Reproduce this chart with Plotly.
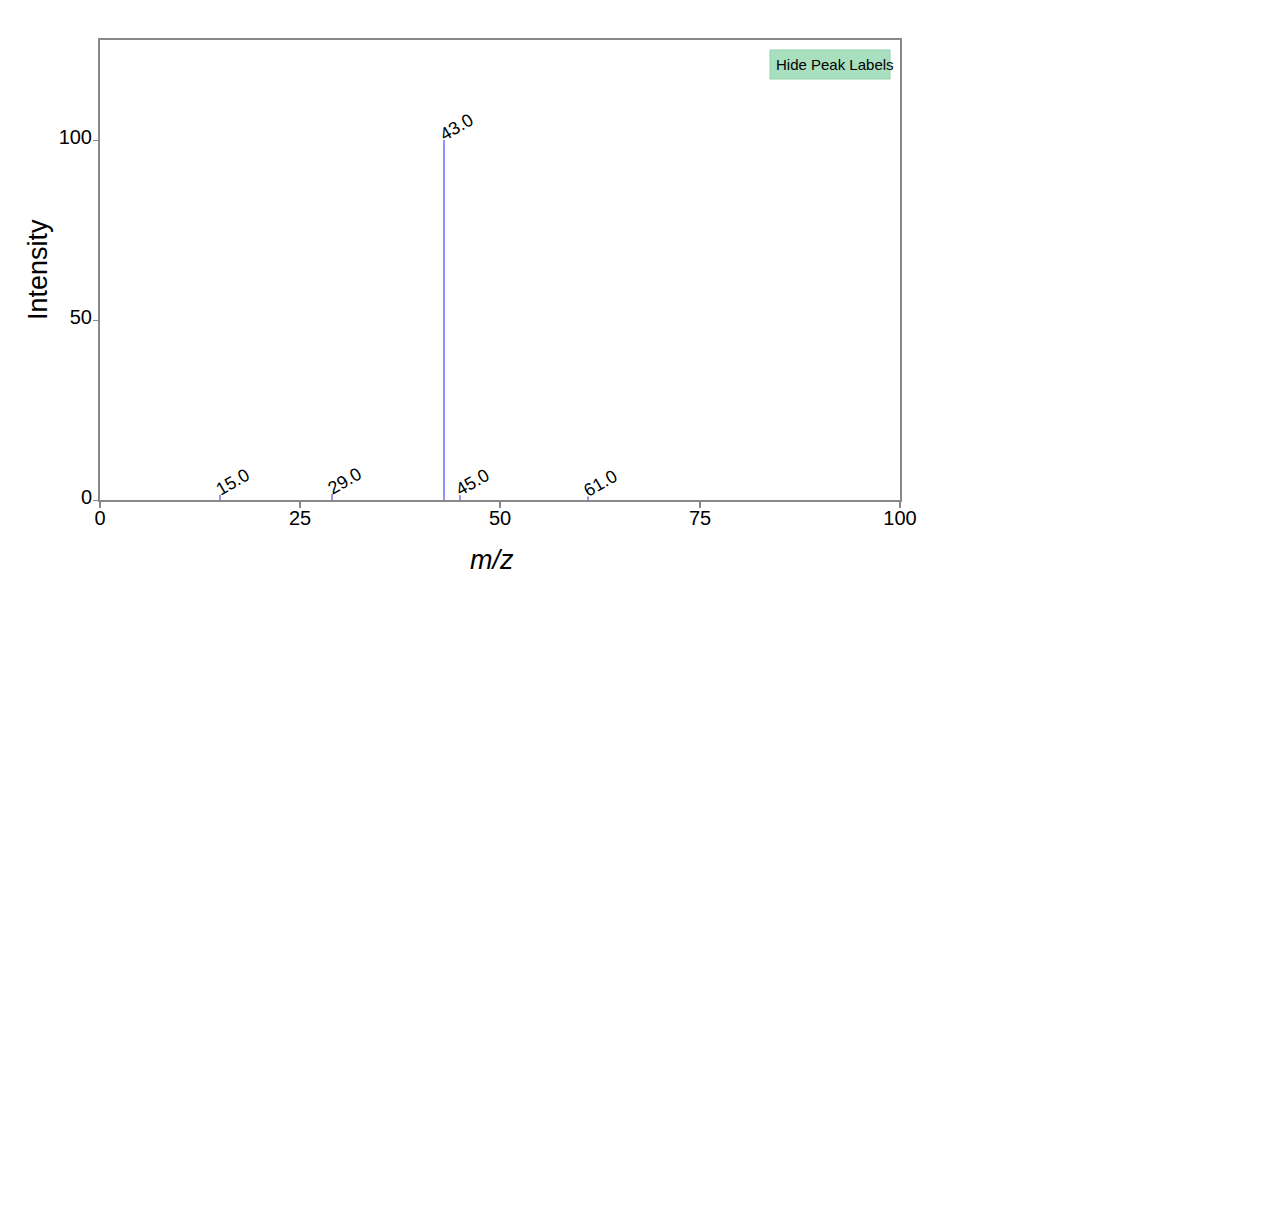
import plotly.graph_objects as go

# Data
mz_values = [15.0, 29.0, 43.0, 45.0, 61.0]
intensities = [1.4, 1.7, 100.0, 1.3, 1.0]
peak_labels = ["15.0", "29.0", "43.0", "45.0", "61.0"]
x_ticks = [0, 25, 50, 75, 100]
y_ticks = [0, 50, 100]

FONT = "Liberation Sans, Arial, sans-serif"

xs, ys = [], []
for m, i in zip(mz_values, intensities):
    xs += [m, m, None]
    ys += [0, i, None]

fig = go.Figure()
fig.add_trace(go.Scatter(x=xs, y=ys, mode="lines",
                         line=dict(color="#6e6cff", width=1.5),
                         hoverinfo="skip", showlegend=False))

annotations = []
for m, i, lab in zip(mz_values, intensities, peak_labels):
    annotations.append(dict(x=m, y=i, xref="x", yref="y", text=lab,
                            showarrow=False, textangle=-30,
                            xanchor="left", yanchor="bottom",
                            xshift=-10, yshift=-7,
                            font=dict(family=FONT, size=18, color="black")))

annotations.append(dict(x=0.49, y=-0.1304, xref="paper", yref="paper",
                        text="<i>m/z</i>", showarrow=False,
                        xanchor="center", yanchor="middle",
                        font=dict(family=FONT, size=27, color="black")))
annotations.append(dict(x=-0.0775, y=0.5, xref="paper", yref="paper",
                        text="Intensity", showarrow=False, textangle=-90,
                        xanchor="center", yanchor="middle",
                        font=dict(family=FONT, size=27, color="black")))
annotations.append(dict(x=0.8425, y=0.9457, xref="paper", yref="paper",
                        text="Hide Peak Labels", showarrow=False,
                        xanchor="left", yanchor="middle",
                        font=dict(family=FONT, size=15, color="black")))

fig.update_layout(
    width=1265, height=1228,
    margin=dict(l=100, r=365, t=40, b=728),
    plot_bgcolor="white", paper_bgcolor="white",
    font=dict(family=FONT, size=20, color="black"),
    annotations=annotations,
    shapes=[dict(type="rect", xref="paper", yref="paper",
                 x0=0.8375, x1=0.9875, y0=0.9152, y1=0.9783,
                 fillcolor="#a8dfbf", line=dict(color="#92d2ae", width=1),
                 layer="above")],
    xaxis=dict(range=[0, 100], tickvals=x_ticks, ticks="outside", ticklen=6,
               tickcolor="#888", tickwidth=2, showline=True, linecolor="#888",
               linewidth=2, mirror=True, showgrid=False, zeroline=False,
               ticklabelstandoff=-7,
               tickfont=dict(size=20, family=FONT, color="black")),
    yaxis=dict(range=[0, 127.8], tickvals=y_ticks, ticks="outside", ticklen=5,
               tickcolor="#888", tickwidth=1, showline=True, linecolor="#888",
               linewidth=2, mirror=True, showgrid=False, zeroline=False,
               ticklabelstandoff=-3, ticklabelshift=-3,
               tickfont=dict(size=20, family=FONT, color="black")),
)

fig.write_html("out.html")
